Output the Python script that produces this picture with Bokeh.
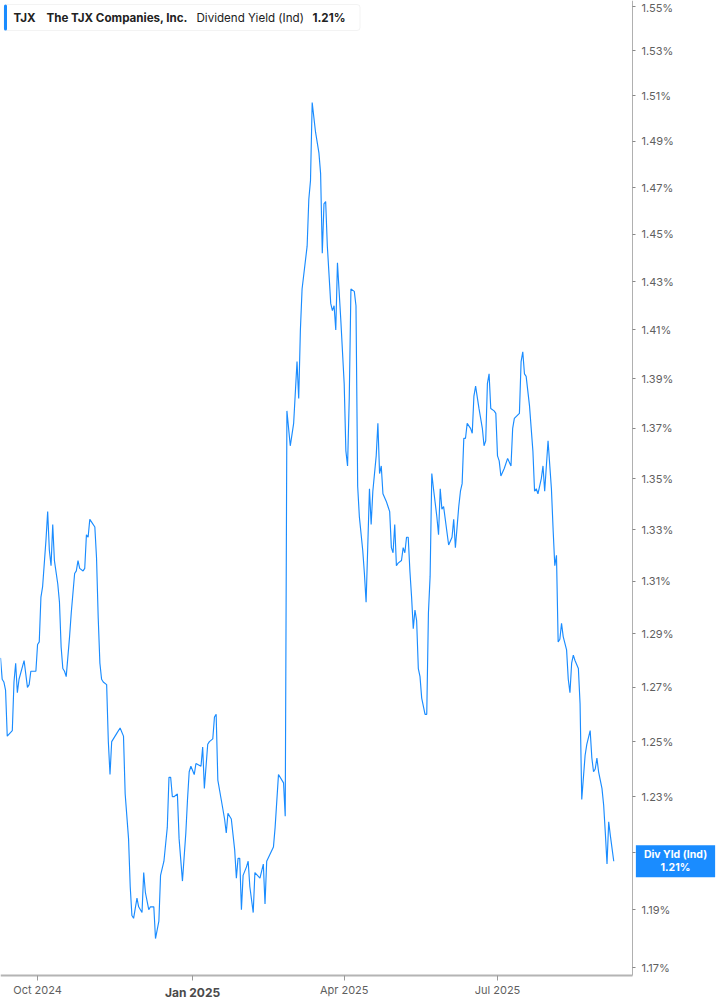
from datetime import datetime
import pandas as pd
from bokeh.plotting import figure
from bokeh.models import (ColumnDataSource, FixedTicker, PrintfTickFormatter, Range1d,
                          Label, BoxAnnotation)
from bokeh.embed import file_html
from bokeh.resources import INLINE
import math

# ---------------- data ----------------
dates = [
    "2024-09-09", "2024-09-10", "2024-09-11", "2024-09-12", "2024-09-13", "2024-09-16", "2024-09-17",
    "2024-09-18", "2024-09-19", "2024-09-20", "2024-09-23", "2024-09-25", "2024-09-26", "2024-09-27",
    "2024-09-30", "2024-10-01", "2024-10-02", "2024-10-03", "2024-10-04", "2024-10-06", "2024-10-07",
    "2024-10-08", "2024-10-09", "2024-10-10", "2024-10-11", "2024-10-13", "2024-10-14", "2024-10-15",
    "2024-10-16", "2024-10-17", "2024-10-18", "2024-10-20", "2024-10-21", "2024-10-23", "2024-10-24",
    "2024-10-25", "2024-10-26", "2024-10-28", "2024-10-29", "2024-10-30", "2024-10-31", "2024-11-01",
    "2024-11-02", "2024-11-04", "2024-11-05", "2024-11-06", "2024-11-07", "2024-11-08", "2024-11-09",
    "2024-11-11", "2024-11-12", "2024-11-13", "2024-11-14", "2024-11-15", "2024-11-17", "2024-11-19",
    "2024-11-21", "2024-11-22", "2024-11-24", "2024-11-25", "2024-11-26", "2024-11-27", "2024-11-29",
    "2024-11-30", "2024-12-02", "2024-12-03", "2024-12-04", "2024-12-06", "2024-12-07", "2024-12-09",
    "2024-12-10", "2024-12-12", "2024-12-13", "2024-12-15", "2024-12-16", "2024-12-17", "2024-12-18",
    "2024-12-19", "2024-12-20", "2024-12-21", "2024-12-23", "2024-12-24", "2024-12-26", "2024-12-28",
    "2024-12-29", "2024-12-30", "2024-12-31", "2025-01-02", "2025-01-03", "2025-01-06", "2025-01-07",
    "2025-01-08", "2025-01-10", "2025-01-11", "2025-01-13", "2025-01-14", "2025-01-15", "2025-01-16",
    "2025-01-18", "2025-01-20", "2025-01-21", "2025-01-22", "2025-01-23", "2025-01-24", "2025-01-26",
    "2025-01-27", "2025-01-28", "2025-01-29", "2025-01-30", "2025-01-31", "2025-02-02", "2025-02-03",
    "2025-02-04", "2025-02-06", "2025-02-07", "2025-02-10", "2025-02-12", "2025-02-13", "2025-02-14",
    "2025-02-18", "2025-02-19", "2025-02-21", "2025-02-24", "2025-02-25", "2025-02-26", "2025-02-28",
    "2025-03-02", "2025-03-04", "2025-03-05", "2025-03-06", "2025-03-07", "2025-03-10", "2025-03-11",
    "2025-03-12", "2025-03-13", "2025-03-15", "2025-03-17", "2025-03-18", "2025-03-19", "2025-03-20",
    "2025-03-21", "2025-03-22", "2025-03-24", "2025-03-25", "2025-03-26", "2025-03-27", "2025-03-28",
    "2025-03-30", "2025-04-01", "2025-04-02", "2025-04-03", "2025-04-04", "2025-04-05", "2025-04-07",
    "2025-04-08", "2025-04-09", "2025-04-10", "2025-04-12", "2025-04-13", "2025-04-14", "2025-04-16",
    "2025-04-17", "2025-04-18", "2025-04-20", "2025-04-21", "2025-04-22", "2025-04-23", "2025-04-24",
    "2025-04-26", "2025-04-27", "2025-04-28", "2025-04-29", "2025-04-30", "2025-05-01", "2025-05-02",
    "2025-05-03", "2025-05-05", "2025-05-06", "2025-05-07", "2025-05-08", "2025-05-09", "2025-05-10",
    "2025-05-11", "2025-05-12", "2025-05-13", "2025-05-14", "2025-05-15", "2025-05-16", "2025-05-17",
    "2025-05-19", "2025-05-20", "2025-05-21", "2025-05-22", "2025-05-23", "2025-05-24", "2025-05-26",
    "2025-05-27", "2025-05-28", "2025-05-29", "2025-05-30", "2025-06-02", "2025-06-04", "2025-06-05",
    "2025-06-06", "2025-06-08", "2025-06-09", "2025-06-10", "2025-06-11", "2025-06-12", "2025-06-13",
    "2025-06-15", "2025-06-16", "2025-06-17", "2025-06-18", "2025-06-20", "2025-06-22", "2025-06-23",
    "2025-06-24", "2025-06-25", "2025-06-26", "2025-06-27", "2025-06-29", "2025-06-30", "2025-07-01",
    "2025-07-02", "2025-07-03", "2025-07-05", "2025-07-07", "2025-07-09", "2025-07-10", "2025-07-11",
    "2025-07-14", "2025-07-15", "2025-07-16", "2025-07-17", "2025-07-18", "2025-07-20", "2025-07-22",
    "2025-07-23", "2025-07-24", "2025-07-25", "2025-07-27", "2025-07-28", "2025-07-29", "2025-07-31",
    "2025-08-02", "2025-08-03", "2025-08-04", "2025-08-05", "2025-08-06", "2025-08-07", "2025-08-08",
    "2025-08-09", "2025-08-11", "2025-08-12", "2025-08-13", "2025-08-14", "2025-08-15", "2025-08-16",
    "2025-08-18", "2025-08-19", "2025-08-20", "2025-08-21", "2025-08-22", "2025-08-23", "2025-08-25",
    "2025-08-26", "2025-08-27", "2025-08-28", "2025-08-29", "2025-08-30", "2025-09-01", "2025-09-02",
    "2025-09-03", "2025-09-04", "2025-09-05", "2025-09-06", "2025-09-08",
]
div_yield = [
    1.281, 1.273, 1.272, 1.269, 1.252, 1.254, 1.272,
    1.279, 1.268, 1.273, 1.280, 1.270, 1.271, 1.276,
    1.276, 1.286, 1.287, 1.304, 1.308, 1.326, 1.337,
    1.322, 1.316, 1.332, 1.318, 1.309, 1.302, 1.285,
    1.277, 1.276, 1.274, 1.289, 1.298, 1.313, 1.314,
    1.318, 1.315, 1.314, 1.315, 1.328, 1.327, 1.334,
    1.333, 1.331, 1.319, 1.296, 1.279, 1.273, 1.272,
    1.271, 1.250, 1.238, 1.250, 1.251, 1.253, 1.255,
    1.252, 1.231, 1.215, 1.198, 1.188, 1.187, 1.194,
    1.191, 1.189, 1.203, 1.196, 1.190, 1.191, 1.191,
    1.180, 1.186, 1.202, 1.207, 1.213, 1.219, 1.237,
    1.237, 1.230, 1.230, 1.231, 1.215, 1.200, 1.217,
    1.229, 1.239, 1.241, 1.238, 1.242, 1.241, 1.248,
    1.233, 1.249, 1.250, 1.251, 1.259, 1.260, 1.236,
    1.229, 1.222, 1.217, 1.224, 1.223, 1.222, 1.211,
    1.201, 1.208, 1.208, 1.190, 1.202, 1.205, 1.207,
    1.198, 1.189, 1.203, 1.201, 1.206, 1.192, 1.207,
    1.212, 1.219, 1.238, 1.235, 1.223, 1.377, 1.363,
    1.372, 1.397, 1.382, 1.410, 1.427, 1.445, 1.465,
    1.473, 1.507, 1.494, 1.485, 1.476, 1.442, 1.463,
    1.464, 1.445, 1.421, 1.418, 1.420, 1.410, 1.438,
    1.414, 1.388, 1.361, 1.355, 1.382, 1.427, 1.426,
    1.420, 1.347, 1.335, 1.322, 1.313, 1.302, 1.346,
    1.332, 1.345, 1.359, 1.372, 1.352, 1.355, 1.344,
    1.341, 1.339, 1.337, 1.323, 1.321, 1.332, 1.316,
    1.317, 1.318, 1.323, 1.321, 1.327, 1.327, 1.314,
    1.304, 1.292, 1.299, 1.295, 1.277, 1.274, 1.266,
    1.260, 1.260, 1.298, 1.312, 1.352, 1.346, 1.335,
    1.328, 1.346, 1.338, 1.339, 1.324, 1.327, 1.334,
    1.323, 1.339, 1.345, 1.348, 1.366, 1.366, 1.372,
    1.370, 1.368, 1.383, 1.387, 1.378, 1.370, 1.363,
    1.365, 1.388, 1.392, 1.378, 1.377, 1.376, 1.359,
    1.357, 1.351, 1.354, 1.358, 1.355, 1.370, 1.374,
    1.376, 1.397, 1.401, 1.392, 1.391, 1.379, 1.361,
    1.345, 1.346, 1.344, 1.350, 1.355, 1.345, 1.365,
    1.346, 1.330, 1.316, 1.320, 1.287, 1.288, 1.294,
    1.289, 1.284, 1.273, 1.268, 1.279, 1.282, 1.280,
    1.277, 1.264, 1.229, 1.237, 1.245, 1.249, 1.254,
    1.244, 1.239, 1.240, 1.244, 1.239, 1.233, 1.227,
    1.217, 1.206, 1.221, 1.216, 1.207,
]

y_ticks = [1.17, 1.19, 1.21, 1.23, 1.25, 1.27, 1.29, 1.31, 1.33, 1.35,
           1.37, 1.39, 1.41, 1.43, 1.45, 1.47, 1.49, 1.51, 1.53, 1.55]
x_tick_dates = ["2024-10-01", "2025-01-01", "2025-04-01", "2025-07-01"]
x_tick_labels = ["Oct 2024", "Jan 2025", "Apr 2025", "Jul 2025"]
year_start_label = "Jan 2025"

ticker_sym = "TJX"
company = "The TJX Companies, Inc."
metric = "Dividend Yield (Ind)"
last_value_text = "1.21%"
end_label_text = "Div Yld (Ind)\n1.21%"

# ---------------- styling / layout ----------------
LINE = "#1a8cff"
FONT = "Inter"
TXT = "#222222"
AX = "#5f5f5f"

W, H = 717, 1005          # whole canvas is the frame; axes are drawn at fixed locations
PLOT_W, PLOT_H = 632, 975  # plotting area (left/top corner at 0,0)

x0 = pd.Timestamp("2024-09-09")
x1 = pd.Timestamp("2025-09-19 03:00")
x_end = x0 + (x1 - x0) * (W / PLOT_W)
y_lo, y_hi = 1.1673, 1.5527
y_bottom = y_lo * math.exp(-math.log(y_hi / y_lo) * (H - PLOT_H) / PLOT_H)

df = pd.DataFrame({"date": pd.to_datetime(dates), "yld": div_yield})
src = ColumnDataSource(df)

p = figure(
    x_axis_type="datetime", y_axis_type="log", y_axis_location="right",
    width=W, height=H, min_border=0,
    toolbar_location=None, output_backend="svg",
    x_range=Range1d(x0, x_end), y_range=Range1d(y_bottom, y_hi),
)
p.outline_line_color = None
p.background_fill_color = "white"
p.border_fill_color = "white"
p.grid.visible = False

p.line("date", "yld", source=src, line_color=LINE, line_width=1.15)

x1_ms = x1.value / 1e6
x0_ms = x0.value / 1e6

# y axis (right edge of plotting area)
ya = p.yaxis[0]
ya.fixed_location = x1_ms
ya.bounds = (y_lo, y_hi)
ya.ticker = FixedTicker(ticks=y_ticks, minor_ticks=[])
ya.formatter = PrintfTickFormatter(format="%.2f%%")
ya.axis_line_color = "#b0b0b0"
ya.axis_line_width = 1
ya.major_tick_line_color = "#888888"
ya.major_tick_out = 3
ya.major_tick_in = 0
ya.minor_tick_line_color = None
ya.major_label_text_font = FONT
ya.major_label_text_font_size = "11px"
ya.major_label_text_color = AX
ya.major_label_standoff = 6

# x axis (bottom edge of plotting area)
tick_ms = [pd.Timestamp(d).value / 1e6 for d in x_tick_dates]
xa = p.xaxis[0]
xa.fixed_location = y_lo
xa.bounds = (x0_ms, x1_ms)
xa.ticker = FixedTicker(ticks=tick_ms, minor_ticks=[])
xa.major_label_overrides = {
    t: ("" if lab == year_start_label else lab) for t, lab in zip(tick_ms, x_tick_labels)
}
xa.axis_line_color = "#b4b4b4"
xa.axis_line_width = 2
xa.major_tick_line_color = "#999999"
xa.major_tick_out = 5
xa.major_tick_in = 0
xa.minor_tick_line_color = None
xa.major_label_text_font = FONT
xa.major_label_text_font_size = "11px"
xa.major_label_text_color = AX
xa.major_label_standoff = 2

# bold year-boundary tick label
jan_ms = tick_ms[x_tick_labels.index(year_start_label)]
p.add_layout(Label(x=jan_ms, y=H - 992, x_units="data", y_units="screen",
                   text=year_start_label, text_font=FONT, text_font_size="12px",
                   text_font_style="bold", text_color="#4a4a4a",
                   text_align="center", text_baseline="middle", level="overlay"))

# header box
p.add_layout(BoxAnnotation(left=3.5, right=359.5, bottom=H - 30, top=H - 4,
                           left_units="screen", right_units="screen",
                           bottom_units="screen", top_units="screen",
                           fill_color="white", fill_alpha=1,
                           line_color="#d8d8d8", line_width=1, border_radius=3))
p.add_layout(BoxAnnotation(left=3.5, right=6.5, bottom=H - 30, top=H - 4,
                           left_units="screen", right_units="screen",
                           bottom_units="screen", top_units="screen",
                           fill_color=LINE, fill_alpha=1, line_color=None,
                           border_radius=2))
hy = H - 17
for txt, xx, style in [(ticker_sym, 13, "bold"), (company, 46, "bold"),
                       (metric, 196, "normal"), (last_value_text, 312, "bold")]:
    p.add_layout(Label(x=xx, y=hy, x_units="screen", y_units="screen", text=txt,
                       text_font=FONT, text_font_size="11.6px", text_font_style=style,
                       text_color=TXT, text_baseline="middle", text_align="left"))

# end-value label on the axis
p.add_layout(Label(x=PLOT_W + 43, y=div_yield[-1], x_units="screen", y_units="data",
                   text=end_label_text, text_font=FONT, text_font_size="10.5px",
                   text_font_style="bold", text_color="white",
                   text_align="center", text_baseline="middle",
                   background_fill_color=LINE, background_fill_alpha=1,
                   padding=(8, 3), text_line_height=1.0, level="overlay"))

open("out.html", "w").write(file_html(p, INLINE))
